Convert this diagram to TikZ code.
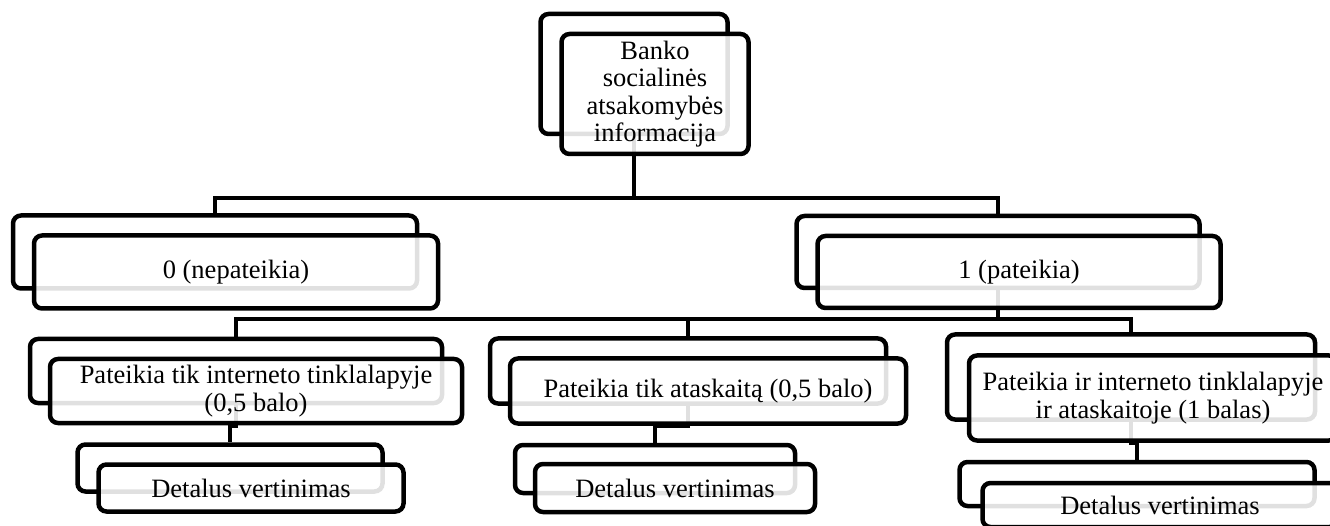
\documentclass[tikz,border=0pt]{standalone}
\usepackage{fontspec}
\setmainfont{Liberation Serif}
\usetikzlibrary{positioning, calc}
\tikzset{
	backbox/.style={rectangle, draw, line width=4.5pt, rounded corners=8pt, inner sep=0pt},
	frontbox/.style={backbox, fill=white, fill opacity=0.88, text opacity=1, align=center, font=\fontsize{26.5}{27.5}\selectfont},
	link/.style={line width=4.5pt}
}

\begin{document}
\begin{tikzpicture}[x=1pt, y=-1pt]
        \useasboundingbox (0,0) rectangle (1330,526);
        \clip (0,0) rectangle (1330,526);

        % back boxes
        \node[backbox, minimum width=187pt, minimum height=120pt] (bankb) at (634, 74) {};
        \node[backbox, minimum width=404pt, minimum height=73pt] (nepb) at (215, 252) {};
        \node[backbox, minimum width=403pt, minimum height=72pt] (patb) at (998, 252) {};
        \node[backbox, minimum width=412pt, minimum height=64pt] (tinkb) at (236, 371) {};
        \node[backbox, minimum width=396pt, minimum height=65pt] (ataskb) at (688, 371) {};
        \node[backbox, minimum width=368pt, minimum height=85pt] (abub) at (1131, 377) {};
        \node[backbox, minimum width=305pt, minimum height=47pt] (det1b) at (230, 468) {};
        \node[backbox, minimum width=280pt, minimum height=48pt] (det2b) at (655, 469) {};
        \node[backbox, minimum width=355pt, minimum height=44pt] (det3b) at (1137, 484) {};

        \coordinate (bus1) at (0, 198);
        \coordinate (bus2) at (0, 319);

        \draw[link] (bankb.south) -- (bankb.south |- bus1);
        \draw[link] (nepb.north) -- (nepb.north |- bus1) -| (patb.north);

        \draw[link] (patb.south) -- (patb.south |- bus2);
        \draw[link] (tinkb.north) -- (tinkb.north |- bus2) -| (abub.north);
        \draw[link] (ataskb.north) -- (ataskb.north |- bus2);

        \draw[link] (tinkb.south) -- ++(0,20) -| (det1b.north);
        \draw[link] (ataskb.south) -- ++(0,20) -| (det2b.north);
        \draw[link] (abub.south) -- ++(0,21) -| (det3b.north);

        % front boxes
        \node[frontbox, minimum width=187pt, minimum height=120pt] (bank) at (655, 94) {Banko\\socialinės\\atsakomybės\\informacija};
        \node[frontbox, minimum width=404pt, minimum height=73pt] (nep) at (236, 272) {0 (nepateikia)};
        \node[frontbox, minimum width=403pt, minimum height=72pt] (pat) at (1019, 272) {1 (pateikia)};
        \node[frontbox, minimum width=412pt, minimum height=64pt] (tink) at (256, 391) {Pateikia tik interneto tinklalapyje\\(0,5 balo)};
        \node[frontbox, minimum width=396pt, minimum height=65pt] (atask) at (708, 391) {Pateikia tik ataskaitą (0,5 balo)};
        \node[frontbox, minimum width=368pt, minimum height=85pt] (abu) at (1153, 398) {Pateikia ir interneto tinklalapyje\\ir ataskaitoje (1 balas)};
        \node[frontbox, minimum width=305pt, minimum height=47pt] (det1) at (251, 488) {Detalus vertinimas};
        \node[frontbox, minimum width=280pt, minimum height=48pt] (det2) at (675, 488) {Detalus vertinimas};
        \node[frontbox, minimum width=355pt, minimum height=44pt] (det3) at (1160, 505) {Detalus vertinimas};
    \end{tikzpicture}
\end{document}
